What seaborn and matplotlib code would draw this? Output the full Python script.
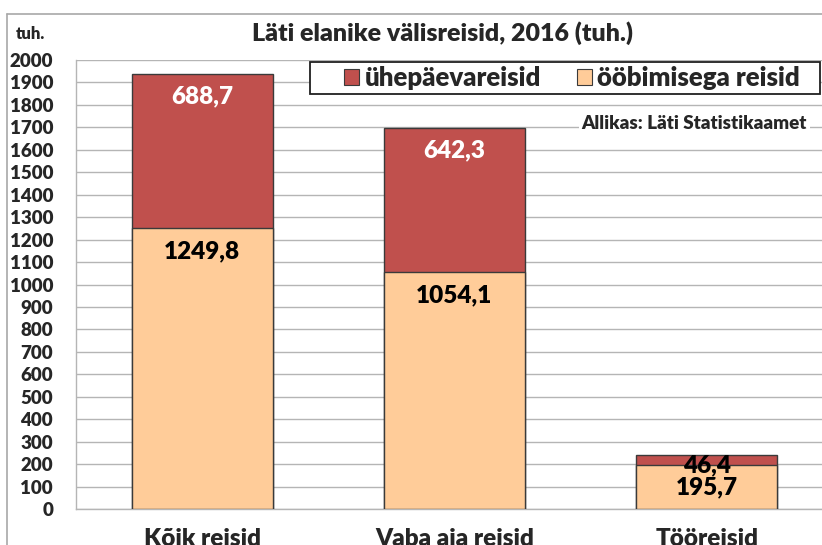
import numpy as np
import pandas as pd
import matplotlib
matplotlib.use("Agg")
import matplotlib.pyplot as plt
from matplotlib.patches import Patch, Rectangle
from matplotlib.lines import Line2D
import seaborn as sns

# data
categories = ["Kõik reisid", "Vaba aja reisid", "Tööreisid"]
overnight = [1249.8, 1054.1, 195.7]   # ööbimisega reisid
sameday = [688.7, 642.3, 46.4]        # ühepäevareisid
yticks = list(range(0, 2001, 100))

# label styling (not data)
top_label_colors = ["white", "white", "black"]
top_label_offsets = [-16.2, -16.2, -7.6]   # points below segment top
bottom_label_offset = -16.2

RED = "#C0504D"
PEACH = "#FFCC99"
EDGE = "#3A3A3A"
GRID = "#B5B5B5"
W, H = 822, 545
WT = 'heavy'

sns.set_style("white")
plt.rcParams['font.family'] = ['Lato', 'DejaVu Sans']
plt.rcParams['font.weight'] = WT

df = pd.DataFrame({
    "cat": categories,
    "overnight": overnight,
    "sameday": sameday,
})
df["total"] = df["overnight"] + df["sameday"]

fig = plt.figure(figsize=(W / 100, H / 100), dpi=100)
ax = fig.add_axes([76 / W, 36 / H, 757 / W, 449 / H])

# totals first (red), then the lower part drawn over it
sns.barplot(data=df, x="cat", y="total", color=RED, width=0.56,
            edgecolor=EDGE, linewidth=1, ax=ax, zorder=3, saturation=1)
sns.barplot(data=df, x="cat", y="overnight", color=PEACH, width=0.56,
            edgecolor=EDGE, linewidth=1, ax=ax, zorder=4, saturation=1)

ax.set_xlim(-0.5, 2.5)
ax.set_ylim(0, 2000)
ax.set_yticks(yticks)
ax.set_yticklabels([str(t) for t in yticks], fontsize=13.5, fontweight=WT)
ax.yaxis.grid(True, color=GRID, linewidth=1, zorder=0)
ax.set_axisbelow(True)
ax.tick_params(axis='y', length=5, color=GRID, pad=11.5, width=1)

ax.set_xticks(range(len(categories)))
ax.set_xticklabels(categories, fontsize=17.5, fontweight=WT)
ax.set_xticks([-0.5, 0.5, 1.5, 2.5], minor=True)
ax.tick_params(axis='x', which='major', length=0, pad=14)
ax.tick_params(axis='x', which='minor', length=6, color=GRID, width=1)
ax.set_xlabel("")
ax.set_ylabel("")

for s in ["top", "right"]:
    ax.spines[s].set_visible(False)
for s in ["left", "bottom"]:
    ax.spines[s].set_color(GRID)
    ax.spines[s].set_linewidth(1)

# value labels near the top of each segment
fmt = lambda v: f"{v:.1f}".replace('.', ',')
for i in range(len(categories)):
    ax.annotate(fmt(overnight[i]), xy=(i, overnight[i]), xytext=(0, bottom_label_offset),
                textcoords='offset points', ha='center', va='center',
                fontsize=17.5, fontweight=WT, color='black', zorder=6)
    ax.annotate(fmt(sameday[i]), xy=(i, overnight[i] + sameday[i]),
                xytext=(0, top_label_offsets[i]),
                textcoords='offset points', ha='center', va='center',
                fontsize=17.5, fontweight=WT, color=top_label_colors[i], zorder=6)

# outer chart border (only left/top visible in the crop)
fig.add_artist(Line2D([7 / W, 7 / W], [0, 1 - 14 / H], transform=fig.transFigure,
                      color="#A8A8A8", linewidth=1.2))
fig.add_artist(Line2D([7 / W, 1], [1 - 14 / H, 1 - 14 / H], transform=fig.transFigure,
                      color="#A8A8A8", linewidth=1.2))

fig.text(442 / W, 1 - 33 / H, "Läti elanike välisreisid, 2016 (tuh.)",
         ha='center', va='center', fontsize=18, fontweight=WT)
fig.text(16 / W, 1 - 34 / H, "tuh.", ha='left', va='center',
         fontsize=12, fontweight=WT)
fig.text(807 / W, 1 - 123 / H, "Allikas: Läti Statistikaamet", ha='right',
         va='center', fontsize=13.5, fontweight=WT, zorder=6,
         bbox=dict(facecolor='white', edgecolor='none', pad=2))

# legend with a manually drawn frame
fig.add_artist(Rectangle((310 / W, 1 - 94 / H), 510 / W, 32 / H, transform=fig.transFigure,
                         facecolor='white', edgecolor='#202020', linewidth=1.3, zorder=4))
handles = [Patch(facecolor=RED, edgecolor=EDGE, linewidth=0.8, label="ühepäevareisid"),
           Patch(facecolor=PEACH, edgecolor=EDGE, linewidth=0.8, label="ööbimisega reisid")]
leg = fig.legend(handles=handles, loc='center', ncol=2,
                 bbox_to_anchor=(572 / W, 1 - 78 / H),
                 prop={'size': 18.5, 'weight': WT}, frameon=False,
                 handlelength=0.6, handleheight=0.6, handletextpad=0.2,
                 columnspacing=1.4, borderpad=0, borderaxespad=0)
leg.set_zorder(5)

fig.savefig("out.png", dpi=100)
